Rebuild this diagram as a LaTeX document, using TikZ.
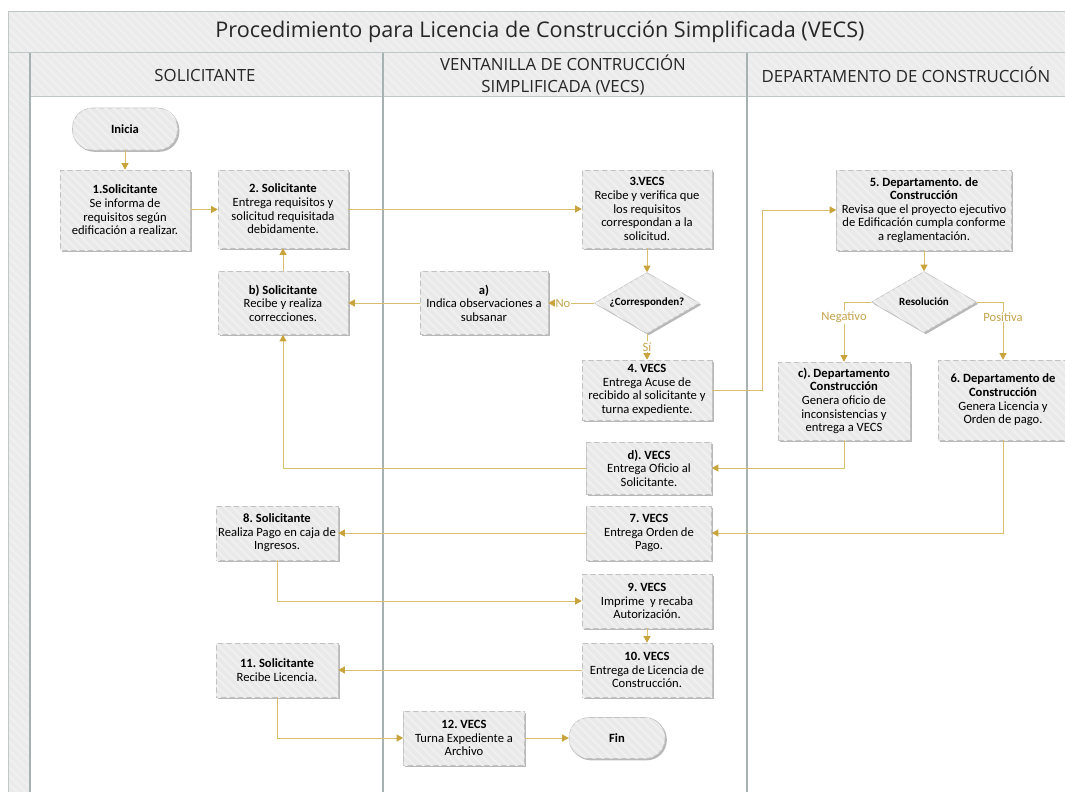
\documentclass[tikz,border=0pt]{standalone}
\usepackage{fontspec}
\setmainfont{Carlito}
\newfontfamily\headfont{Open Sans}
\usetikzlibrary{shapes.geometric,shadows,arrows.meta,patterns.meta,calc}
\definecolor{boxfill}{HTML}{E9E9E9}
\definecolor{stripec}{HTML}{F0F0F0}
\definecolor{boxline}{HTML}{C2C2C2}
\definecolor{bandfill}{HTML}{EBEBEB}
\definecolor{bandline}{HTML}{BFC7C7}
\definecolor{laneline}{HTML}{A6B1B1}
\definecolor{flowc}{HTML}{D9BE6E}
\definecolor{tipc}{HTML}{C9A43C}
\definecolor{lblc}{HTML}{C4A44E}
\tikzset{
  stripes/.style={postaction={pattern={Lines[angle=-45,distance=6pt,line width=2pt]},pattern color=stripec}},
  shade box/.style={drop shadow={shadow xshift=1.8pt,shadow yshift=-1.8pt,fill=black,opacity=0.28}},
  proc/.style={draw=boxline, fill=boxfill, line width=0.6pt, align=center, inner sep=1pt,
    font=\fontsize{12.6}{13.6}\selectfont, shade box, stripes},
  term/.style={proc, rounded corners=20pt, font=\bfseries\fontsize{12.6}{13.6}\selectfont},
  decis/.style={proc, diamond, aspect=1.72, inner sep=0pt, font=\bfseries\fontsize{11}{12}\selectfont},
  flow/.style={draw=flowc, line width=0.9pt, -{Triangle[width=7pt,length=6.5pt,color=tipc]}},
  lbl/.style={fill=white, text=lblc, font=\fontsize{12.6}{13}\selectfont, inner sep=1pt},
  hdr/.style={font=\headfont\fontsize{16.8}{22}\selectfont, text=black!85, align=center},
  band/.style={fill=bandfill, postaction={pattern={Lines[angle=-45,distance=6pt,line width=2pt]},pattern color=stripec}},
  bline/.style={draw=bandline, line width=1pt},
  lline/.style={draw=laneline, line width=1.3pt},
}
\begin{document}
\frenchspacing
\begin{tikzpicture}[x=1pt,y=-1pt]
\useasboundingbox (0,0) rectangle (1065,792);
% bands
\fill[band] (8,12) rectangle (1075,96);
\fill[band] (8,96) rectangle (30,800);
\draw[bline] (8,800) -- (8,12) -- (1075,12);
\draw[bline] (8,53) -- (1075,53);
\draw[bline] (30,96) -- (1075,96);
\draw[lline] (30,53) -- (30,800);
\draw[lline] (383,53) -- (383,800);
\draw[lline] (747,53) -- (747,800);
\node[font=\headfont\fontsize{21.6}{24}\selectfont, text=black!85] (title) at (540,32) {Procedimiento para Licencia de Construcción Simplificada (VECS)};
\node[hdr] (h1) at (205,75) {SOLICITANTE};
\node[hdr] (h2) at (563,75) {VENTANILLA DE CONTRUCCIÓN\\SIMPLIFICADA (VECS)};
\node[hdr, anchor=west] (h3) at (758,75) {DEPARTAMENTO DE CONSTRUCCIÓN};

% nodes
\node[term, minimum width=105pt, minimum height=42pt] (ini) at (125,129) {Inicia};
\node[proc, minimum width=130pt, minimum height=80pt] (s1) at (125,210)
  {\textbf{1.Solicitante}\\Se informa de\\requisitos según\\edificación a realizar.};
\node[proc, minimum width=130pt, minimum height=78pt] (s2) at (283,209)
  {\textbf{2. Solicitante}\\Entrega requisitos y\\solicitud requisitada\\debidamente.};
\node[proc, minimum width=130pt, minimum height=63pt] (sb) at (283,303)
  {\textbf{b) Solicitante}\\Recibe y realiza\\correcciones.};
\node[proc, minimum width=128pt, minimum height=63pt] (va) at (484,303)
  {\textbf{a)}\\Indica observaciones a\\subsanar};
\node[proc, minimum width=130pt, minimum height=78pt] (v3) at (647,209)
  {\textbf{3.VECS}\\Recibe y verifica que\\los requisitos\\correspondan a la\\solicitud.};
\node[decis, minimum width=105pt, minimum height=61pt] (d1) at (647,303) {¿Corresponden?};
\node[proc, minimum width=130pt, minimum height=60pt] (v4) at (647,390)
  {\textbf{4. VECS}\\Entrega Acuse de\\recibido al solicitante y\\turna expediente.};
\node[proc, minimum width=175pt, minimum height=80pt] (d5) at (924,210)
  {\textbf{5. Departamento. de}\\\textbf{Construcción}\\Revisa que el proyecto ejecutivo\\de Edificación cumpla conforme\\a reglamentación.};
\node[decis, minimum width=105pt, minimum height=61pt] (res) at (924,302) {Resolución};
\node[proc, minimum width=132pt, minimum height=78pt] (dc) at (844,401)
  {\textbf{c). Departamento}\\\textbf{Construcción}\\Genera oficio de\\inconsistencias y\\entrega a VECS};
\node[proc, minimum width=130pt, minimum height=80pt] (d6) at (1003,400)
  {\textbf{6. Departamento de}\\\textbf{Construcción}\\Genera Licencia y\\Orden de pago.};
\node[proc, minimum width=125pt, minimum height=52pt] (vd) at (649,468)
  {\textbf{d). VECS}\\Entrega Oficio al\\Solicitante.};
\node[proc, minimum width=125pt, minimum height=54pt] (v7) at (649,533)
  {\textbf{7. VECS}\\Entrega Orden de\\Pago.};
\node[proc, minimum width=122pt, minimum height=54pt] (s8) at (277,533)
  {\textbf{8. Solicitante}\\Realiza Pago en caja de\\Ingresos.};
\node[proc, minimum width=130pt, minimum height=54pt] (v9) at (647,601)
  {\textbf{9. VECS}\\Imprime\ \ y recaba\\Autorización.};
\node[proc, minimum width=130pt, minimum height=54pt] (v10) at (647,670)
  {\textbf{10. VECS}\\Entrega de Licencia de\\Construcción.};
\node[proc, minimum width=122pt, minimum height=54pt] (s11) at (277,670)
  {\textbf{11. Solicitante}\\Recibe Licencia.};
\node[proc, minimum width=121pt, minimum height=54pt] (v12) at (464,738)
  {\textbf{12. VECS}\\Turna Expediente a\\Archivo};
\node[term, minimum width=96pt, minimum height=41pt] (fin) at (617,738) {Fin};

\coordinate (j1) at (762,390);

% connectors
\draw[flow] (ini) -- (s1);
\draw[flow] (s1) -- (s2);
\draw[flow] (s2) -- (v3);
\draw[flow] (v3) -- (d1);
\draw[flow] (d1.west) -- node[lbl, pos=0.68] (lno) {No} (va.east);
\draw[flow] (va) -- (sb);
\draw[flow] (sb) -- (s2);
\draw[flow] (d1.south) -- node[lbl] (lsi) {Sí} (v4.north);
\draw[flow] (v4.east) -- (v4.east -| j1) |- (d5.west);
\draw[flow] (d5) -- (res);
\draw[flow] (res.west) -| node[lbl, pos=0.63] (lneg) {Negativo} (dc.north);
\draw[flow] (res.east) -| node[lbl, pos=0.63] (lpos) {Positiva} (d6.north);
\draw[flow] (dc.south) |- (vd.east);
\draw[flow] (vd.west) -| (sb.south);
\draw[flow] (d6.south) |- (v7.east);
\draw[flow] (v7) -- (s8);
\draw[flow] (s8.south) |- (v9.west);
\draw[flow] (v9) -- (v10);
\draw[flow] (v10) -- (s11);
\draw[flow] (s11.south) |- (v12.west);
\draw[flow] (v12) -- (fin);
\end{tikzpicture}
\end{document}
